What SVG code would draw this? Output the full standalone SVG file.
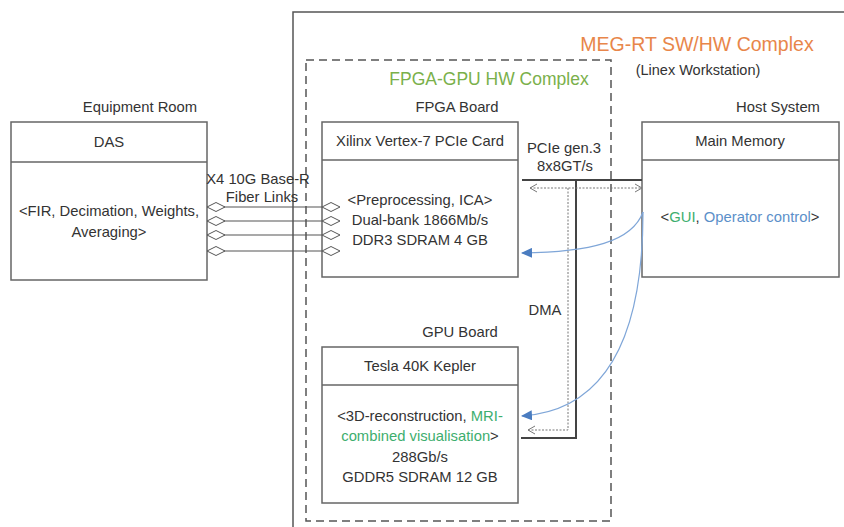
<svg xmlns="http://www.w3.org/2000/svg" width="844" height="527" viewBox="0 0 844 527">
<defs>
<style>
text{font-family:"Liberation Sans",Arial,sans-serif;font-size:14.8px;fill:#333;text-anchor:middle}
.box{fill:#fff;stroke:#666;stroke-width:1.5}
.hdr{stroke:#666;stroke-width:1.5}
.bus{fill:none;stroke:#444;stroke-width:2}
.dot{fill:none;stroke:#777;stroke-width:1;stroke-dasharray:2 1.5}
.fib{fill:none;stroke:#555;stroke-width:1.2}
.blue{fill:none;stroke:#7fa6d8;stroke-width:1.2}
.g{fill:#3dae6e}
.b{fill:#5b8fc9}
</style>
<marker id="dia" markerWidth="20" markerHeight="10" refX="0" refY="5" orient="auto" markerUnits="userSpaceOnUse">
<path d="M0,5 L9,0.5 L18,5 L9,9.5 Z" fill="#fff" stroke="#555" stroke-width="1"/>
</marker>
<marker id="open" markerWidth="10" markerHeight="10" refX="8" refY="5" orient="auto-start-reverse" markerUnits="userSpaceOnUse">
<path d="M1,1 L8,5 L1,9" fill="none" stroke="#777" stroke-width="1"/>
</marker>
<marker id="fill" markerWidth="12" markerHeight="10" refX="10" refY="5" orient="auto" markerUnits="userSpaceOnUse">
<path d="M0,0 L11,5 L0,10 Z" fill="#4a7cc0"/>
</marker>
</defs>
<rect width="844" height="527" fill="#fff"/>

<g id="meg-rt">
<path d="M844,12 H293 V527" fill="none" stroke="#555" stroke-width="1.5"/>
<text x="697" y="51" style="font-size:19.5px;fill:#e8864a">MEG-RT SW/HW Complex</text>
<text x="698" y="75" style="font-size:14.5px">(Linex Workstation)</text>
</g>

<g id="fpga-gpu">
<rect x="306" y="60" width="305" height="461" fill="none" stroke="#555" stroke-width="1.5" stroke-dasharray="8 5"/>
<text x="489" y="85" style="font-size:17.5px;fill:#7ab04a">FPGA-GPU HW Complex</text>
</g>

<g id="das">
<text x="140" y="112">Equipment Room</text>
<rect class="box" x="11" y="122" width="196" height="158"/>
<line class="hdr" x1="11" y1="162" x2="207" y2="162"/>
<text x="109" y="147">DAS</text>
<text x="109" y="216">&lt;FIR, Decimation, Weights,</text>
<text x="109" y="237">Averaging&gt;</text>
</g>

<g id="fpga">
<text x="457" y="112">FPGA Board</text>
<rect class="box" x="322" y="122" width="196" height="155"/>
<line class="hdr" x1="322" y1="160" x2="518" y2="160"/>
<text x="420" y="146">Xilinx Vertex-7 PCIe Card</text>
<text x="420" y="205">&lt;Preprocessing, ICA&gt;</text>
<text x="420" y="225">Dual-bank 1866Mb/s</text>
<text x="420" y="245">DDR3 SDRAM 4 GB</text>
</g>

<g id="gpu">
<text x="460" y="337">GPU Board</text>
<rect class="box" x="322" y="347" width="196" height="156"/>
<line class="hdr" x1="322" y1="385" x2="518" y2="385"/>
<text x="420" y="371">Tesla 40K Kepler</text>
<text x="420" y="421">&lt;3D-reconstruction, <tspan class="g">MRI-</tspan></text>
<text x="420" y="441"><tspan class="g">combined visualisation</tspan>&gt;</text>
<text x="420" y="462">288Gb/s</text>
<text x="420" y="482">GDDR5 SDRAM 12 GB</text>
</g>

<g id="host">
<text x="778" y="112">Host System</text>
<rect class="box" x="642" y="122" width="197" height="155"/>
<line class="hdr" x1="642" y1="160" x2="839" y2="160"/>
<text x="740" y="146">Main Memory</text>
<text x="740" y="222">&lt;<tspan class="g">GUI</tspan>, <tspan class="b">Operator control</tspan>&gt;</text>
</g>

<g id="connectors">
<text x="258" y="184">X4 10G Base-R</text>
<text x="262" y="202">Fiber Links</text>
<path class="fib" d="M207,207 H322" marker-start="url(#dia)" marker-end="url(#dia)"/>
<path class="fib" d="M207,221 H322" marker-start="url(#dia)" marker-end="url(#dia)"/>
<path class="fib" d="M207,235 H322" marker-start="url(#dia)" marker-end="url(#dia)"/>
<path class="fib" d="M207,251 H322" marker-start="url(#dia)" marker-end="url(#dia)"/>
<text x="564" y="153">PCIe gen.3</text>
<text x="565" y="171">8x8GT/s</text>
<path class="bus" d="M522,180 H642 M576,180 V438 H521"/>
<path class="dot" d="M530,188 H642" marker-start="url(#open)" marker-end="url(#open)"/>
<path class="dot" d="M568,188 V430 H528" marker-end="url(#open)"/>
<text x="545" y="315">DMA</text>
<path class="blue" d="M643,212 C632,242 590,252 522,253" marker-end="url(#fill)"/>
<path class="blue" d="M643,212 C643,330 610,410 522,416" marker-end="url(#fill)"/>
</g>
</svg>
